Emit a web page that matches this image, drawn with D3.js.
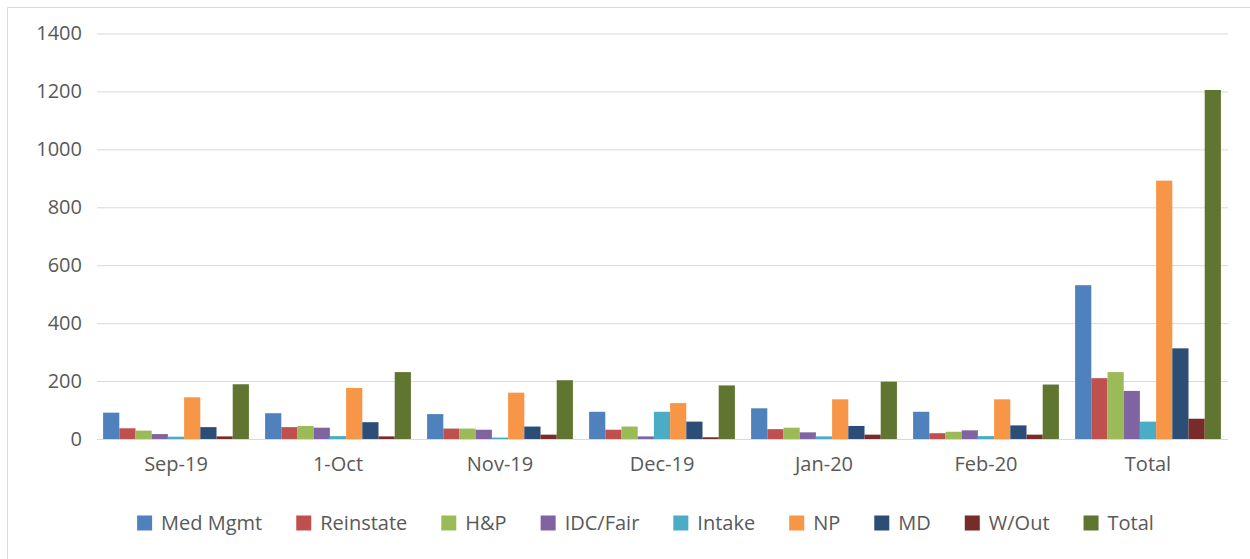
<!DOCTYPE html>
<html>
<head>
<meta charset="utf-8">
<script src="https://cdn.jsdelivr.net/npm/d3@7/dist/d3.min.js"></script>
<style>
  html, body { margin: 0; padding: 0; background: #ffffff; }
  svg { display: block; }
  text { font-family: "Open Sans", "DejaVu Sans", sans-serif; fill: #595959; }
</style>
</head>
<body>
<svg id="chart" width="1250" height="559"></svg>
<script>
const categories = ["Sep-19", "1-Oct", "Nov-19", "Dec-19", "Jan-20", "Feb-20", "Total"];
const seriesNames = ["Med Mgmt", "Reinstate", "H&P", "IDC/Fair", "Intake", "NP", "MD", "W/Out", "Total"];
const seriesColors = ["#4F81BD", "#C0504D", "#9BBB59", "#8064A2", "#4BACC6", "#F79646", "#2C4D75", "#772C2A", "#5F7530"];

const medMgmt   = [91, 89, 86, 94, 106, 94, 531];
const reinstate = [37, 41, 36, 32, 34, 20, 210];
const hp        = [29, 45, 36, 43, 39, 25, 231];
const idcFair   = [17, 39, 32, 9, 23, 30, 166];
const intake    = [8, 10, 5, 94, 9, 10, 60];
const np        = [144, 176, 160, 124, 137, 137, 892];
const md        = [41, 58, 43, 60, 45, 47, 313];
const wOut      = [9, 9, 15, 6, 15, 15, 70];
const total     = [189, 231, 203, 185, 198, 188, 1205];

const yTicks = [0, 200, 400, 600, 800, 1000, 1200, 1400];

const seriesValues = [medMgmt, reinstate, hp, idcFair, intake, np, md, wOut, total];

const svg = d3.select("#chart");

// outer chart border (top + left visible)
svg.append("line").attr("x1", 7.5).attr("x2", 1250).attr("y1", 7.5).attr("y2", 7.5)
  .attr("stroke", "#d9d9d9").attr("stroke-width", 1);
svg.append("line").attr("x1", 7.5).attr("x2", 7.5).attr("y1", 7.5).attr("y2", 559)
  .attr("stroke", "#d9d9d9").attr("stroke-width", 1);

const x0 = d3.scaleBand().domain(categories).range([95, 1229]).paddingInner(0.1).paddingOuter(0.05);
const x1 = d3.scaleBand().domain(seriesNames).range([0, x0.bandwidth()]).padding(0);
const y = d3.scaleLinear().domain([0, 1400]).range([439, 33.5]);

// gridlines
const grid = svg.append("g")
  .call(d3.axisLeft(y).tickValues(yTicks).tickSize(-(1228 - 97)).tickFormat(""))
  .attr("transform", "translate(97,0)");
grid.select(".domain").remove();
grid.selectAll(".tick line").attr("stroke", "#d9d9d9").attr("stroke-width", 1);

// y tick labels
const yAxis = svg.append("g").attr("transform", "translate(82,0)")
  .call(d3.axisLeft(y).tickValues(yTicks).tickSize(0).tickPadding(0).tickFormat(d3.format("d")));
yAxis.select(".domain").remove();
yAxis.selectAll("text").style("font-size", "20px").attr("fill", "#595959")
  .style("font-family", "'Open Sans', sans-serif");

// bars
const groups = svg.append("g").selectAll("g").data(categories).join("g")
  .attr("transform", d => `translate(${x0(d)},0)`);
groups.selectAll("rect")
  .data((c, ci) => seriesNames.map((s, si) => ({ s, si, v: seriesValues[si][ci] })))
  .join("rect")
  .attr("x", d => x1(d.s))
  .attr("width", x1.bandwidth())
  .attr("y", d => y(d.v))
  .attr("height", d => y(0) - y(d.v))
  .attr("fill", d => seriesColors[d.si]);

// x axis
const xAxis = svg.append("g").attr("transform", "translate(0,439)")
  .call(d3.axisBottom(x0).tickSize(0).tickPadding(18));
xAxis.select(".domain").attr("stroke", "#d9d9d9").attr("d", "M97,0.5H1228");
xAxis.selectAll("text").style("font-size", "20px").attr("fill", "#595959")
  .style("font-family", "'Open Sans', sans-serif");

// legend
const legend = svg.append("g");
const items = legend.selectAll("g").data(seriesNames).join("g");
items.append("rect").attr("width", 15).attr("height", 15).attr("y", -7.5)
  .attr("fill", (d, i) => seriesColors[i]);
items.append("text").attr("x", 24).attr("dy", "0.35em")
  .style("font-size", "20px").text(d => d);
let widths = [];
items.each(function () { widths.push(this.getBBox().width); });
const gap = 34;
const totalW = d3.sum(widths) + gap * (widths.length - 1);
let cx = 645.5 - totalW / 2;
items.attr("transform", (d, i) => {
  const t = `translate(${cx},523)`;
  cx += widths[i] + gap;
  return t;
});
</script>
</body>
</html>
